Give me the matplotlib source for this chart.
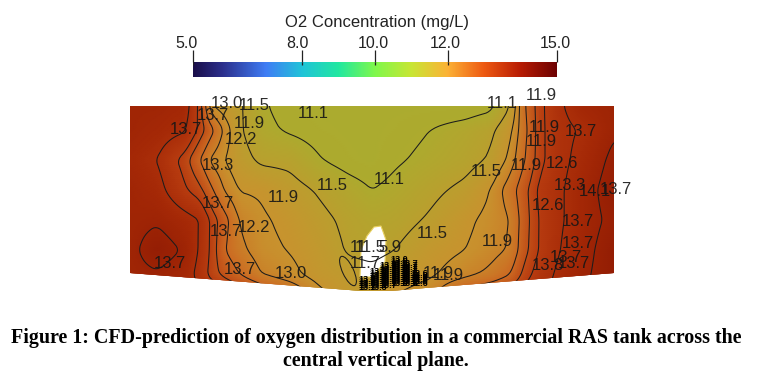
import matplotlib.pyplot as plt
import numpy as np
from matplotlib.colors import LinearSegmentedColormap
from matplotlib.patches import Ellipse, Polygon
from matplotlib.transforms import ScaledTranslation

plt.rcParams['font.family'] = ['Liberation Sans', 'DejaVu Sans']

# colour bar
bar_ticks = [5, 8, 10, 12, 15]
bar_labels = ["5.0", "8.0", "10.0", "12.0", "15.0"]
bar_label_shift = [-6, -5, -2, -3, -2]
bar_stops = [(0.0, "#1a0f4a"), (0.08, "#2c2f8c"), (0.2, "#3f7df5"), (0.3, "#20c4d8"),
             (0.4, "#22e8a0"), (0.5, "#7ff84c"), (0.6, "#c8e634"), (0.7, "#fcb236"),
             (0.8, "#ee5a12"), (0.9, "#b81c04"), (1.0, "#6e0202")]

# field colours of the tank (shaded darker than the bar)
field_stops = [(10.5, "#a8ac30"), (11.1, "#adaa2e"), (11.9, "#c8932e"), (12.6, "#cc6a22"),
               (13.3, "#b83c10"), (13.9, "#a42806"), (14.5, "#8c1802")]

# tank field, x and y are image pixels
grid_x = [130, 157, 185, 200, 212, 225, 240, 262, 290, 320, 350, 372, 395, 430, 465, 490, 510, 525, 540, 560, 585, 614]
grid_y = [106, 130, 160, 190, 220, 250, 275, 295]
field = [
    [14.0, 14.0, 13.9, 13.2, 11.9, 11.7, 11.55, 11.15, 10.95, 10.9, 10.9, 10.9, 10.9, 10.9, 10.9, 11.0, 11.5, 12.6, 13.2, 13.65, 13.95, 14.05],
    [14.0, 13.9, 13.75, 13.2, 12.7, 12.1, 11.55, 11.2, 11.05, 10.95, 10.9, 10.9, 10.95, 11.1, 11.25, 11.4, 11.8, 12.5, 13.2, 13.6, 13.75, 14.05],
    [13.9, 13.7, 13.15, 12.6, 12.1, 11.9, 11.65, 11.42, 11.4, 11.12, 10.95, 10.9, 11.05, 11.2, 11.35, 11.55, 12.0, 12.6, 13.2, 13.6, 13.85, 14.2],
    [14.0, 13.85, 13.35, 13.1, 12.65, 12.15, 11.88, 11.85, 11.65, 11.45, 11.25, 11.1, 11.2, 11.4, 11.6, 11.9, 12.4, 12.9, 13.4, 13.65, 13.95, 14.3],
    [14.0, 14.05, 13.85, 13.7, 13.2, 12.75, 12.15, 11.95, 11.8, 11.6, 11.4, 11.3, 11.35, 11.55, 11.82, 12.0, 12.2, 12.85, 13.35, 13.65, 13.95, 14.2],
    [14.0, 14.3, 14.05, 13.65, 13.2, 12.6, 12.3, 12.0, 11.88, 11.7, 11.45, 11.4, 11.5, 11.75, 11.9, 12.05, 12.25, 12.9, 13.35, 13.7, 14.0, 14.3],
    [14.0, 14.05, 13.9, 13.55, 13.15, 12.9, 12.6, 12.2, 12.0, 11.75, 11.65, 11.6, 11.7, 11.85, 12.1, 12.3, 12.6, 13.15, 13.5, 13.8, 14.05, 14.3],
    [14.0, 14.0, 13.9, 13.85, 13.75, 13.6, 13.4, 13.05, 12.6, 12.0, 11.7, 11.7, 11.9, 12.1, 12.9, 13.1, 13.3, 13.5, 13.65, 13.85, 14.1, 14.3],
]
levels = [11.1, 11.5, 11.9, 12.2, 12.6, 13.0, 13.3, 13.7, 14.1]

tank_outline = [(130, 106), (614, 106), (614, 273), (425, 288), (390, 291), (362, 291), (130, 273)]
hole_outline = [(360, 277), (361, 250), (367, 236), (374, 227), (381, 226), (386, 240), (385, 262), (372, 277)]

# contour labels
labels_x = [227, 254, 313, 186, 213, 249, 241, 218, 218, 283, 254, 226, 170, 240, 291, 332, 389, 486, 526, 562, 570, 595, 616,
            548, 578, 578, 574, 566, 548, 432, 497, 502, 541, 544, 541, 581, 448, 438, 370, 390, 358, 365]
labels_y = [104, 106, 113, 129, 115, 124, 140, 165, 203, 198, 228, 232, 263, 270, 273, 185, 179, 171, 166, 164, 185, 191, 189,
            205, 222, 243, 263, 258, 266, 234, 242, 104, 96, 127, 141, 131, 275, 274, 247, 247, 247, 263]
labels_txt = ["13.0", "11.5", "11.1", "13.7", "13.7", "11.9", "12.2", "13.3", "13.7", "11.9", "12.2", "13.7", "13.7", "13.7", "13.0",
              "11.5", "11.1", "11.5", "11.9", "12.6", "13.3", "14.1", "13.7", "12.6", "13.7", "13.7", "13.7", "13.7", "13.8",
              "11.5", "11.9", "11.1", "11.9", "11.9", "11.9", "13.7", "11.9", "11.9", "11.5", "5.9", "11", "11.7"]

# columns of piled up labels around the inlet
pile_x = [367, 378, 388, 399, 409, 419]
pile_top = [279, 272, 265, 260, 264, 274]
pile_bottom = [288, 288, 285, 285, 285, 285]
pile_txt = ["13.7", "13.3", "13.7", "13.0", "13.7", "12.6"]

fig = plt.figure(figsize=(7.57, 3.83), dpi=100)
ax = fig.add_axes([0, 0, 1, 1])
ax.set_xlim(0, 757)
ax.set_ylim(383, 0)
ax.axis("off")

# resample the read grid to a fine one and soften it, only to get round contours
fine_x = np.arange(130, 615, 2)
fine_y = np.arange(106, 296, 2)
Z = np.array(field)
Z = np.array([np.interp(fine_x, grid_x, row) for row in Z])
Z = np.array([np.interp(fine_y, grid_y, col) for col in Z.T]).T
kernel = np.ones(5) / 5
for axis in (0, 1):
    padded = np.pad(Z, [(2, 2) if a == axis else (0, 0) for a in (0, 1)], mode="edge")
    Z = np.apply_along_axis(lambda v: np.convolve(v, kernel, mode="valid"), axis, padded)

low, high = field_stops[0][0], field_stops[-1][0]
field_cmap = LinearSegmentedColormap.from_list("tank", [((v - low) / (high - low), c) for v, c in field_stops])
tank = Polygon(tank_outline, closed=True, facecolor="none", edgecolor="none", transform=ax.transData)
ax.add_patch(tank)
X, Y = np.meshgrid(fine_x, fine_y)
mesh = ax.pcolormesh(X, Y, Z, shading="gouraud", cmap=field_cmap, vmin=low, vmax=high)
mesh.set_clip_path(tank)
cs = ax.contour(X, Y, Z, levels=levels, colors="#1c1c1c", linewidths=0.75)
cs.set_clip_path(tank)

ax.add_patch(Polygon(hole_outline, closed=True, facecolor="white", edgecolor="#e8d060", linewidth=0.8))
ax.add_patch(Ellipse((348, 271), 11, 32, angle=-25, facecolor="none", edgecolor="#1c1c1c", linewidth=0.75))

for x, y, t in zip(labels_x, labels_y, labels_txt):
    ax.text(x, y, t, fontsize=12, color="#161616", ha="center", va="center", alpha=0.9)
for x, top, bottom, t in zip(pile_x, pile_top, pile_bottom, pile_txt):
    for y in range(top, bottom + 1, 2):
        ax.text(x, y, t, fontsize=6.5, color="black", ha="center", va="center", fontweight="bold")

# colour bar on its own axes so the ticks come from the scale
cax = fig.add_axes([193 / 757, 1 - 77 / 383, 364 / 757, 15 / 383])
bar_cmap = LinearSegmentedColormap.from_list("bar", bar_stops)
cax.imshow(np.linspace(5, 15, 256).reshape(1, -1), aspect="auto", cmap=bar_cmap, extent=[5, 15, 0, 1])
cax.set_yticks([])
cax.set_xticks(bar_ticks)
cax.set_xticklabels(bar_labels, fontsize=11.5, color="#222222")
cax.xaxis.tick_top()
cax.tick_params(axis="x", direction="out", length=9, width=0.9, color="#222222", pad=-1)
cax.vlines(bar_ticks, 0.8, 1, color="#222222", linewidth=0.9)
cax.set_xlim(5, 15)
cax.set_ylim(0, 1)
for lab, dx in zip(cax.get_xticklabels(), bar_label_shift):
    lab.set_transform(lab.get_transform() + ScaledTranslation(dx / 100, 0, fig.dpi_scale_trans))
for s in cax.spines.values():
    s.set_visible(False)

fig.text(377 / 757, 1 - 22 / 383, "O2 Concentration (mg/L)", fontsize=12, color="#222222", ha="center", va="center")
fig.text(376 / 757, 1 - 338 / 383, "Figure 1: CFD-prediction of oxygen distribution in a commercial RAS tank across the",
         fontsize=14.4, fontweight="bold", family="Liberation Serif", ha="center", va="center")
fig.text(376 / 757, 1 - 361 / 383, "central vertical plane.",
         fontsize=14.4, fontweight="bold", family="Liberation Serif", ha="center", va="center")

fig.savefig("out.png", dpi=100)
